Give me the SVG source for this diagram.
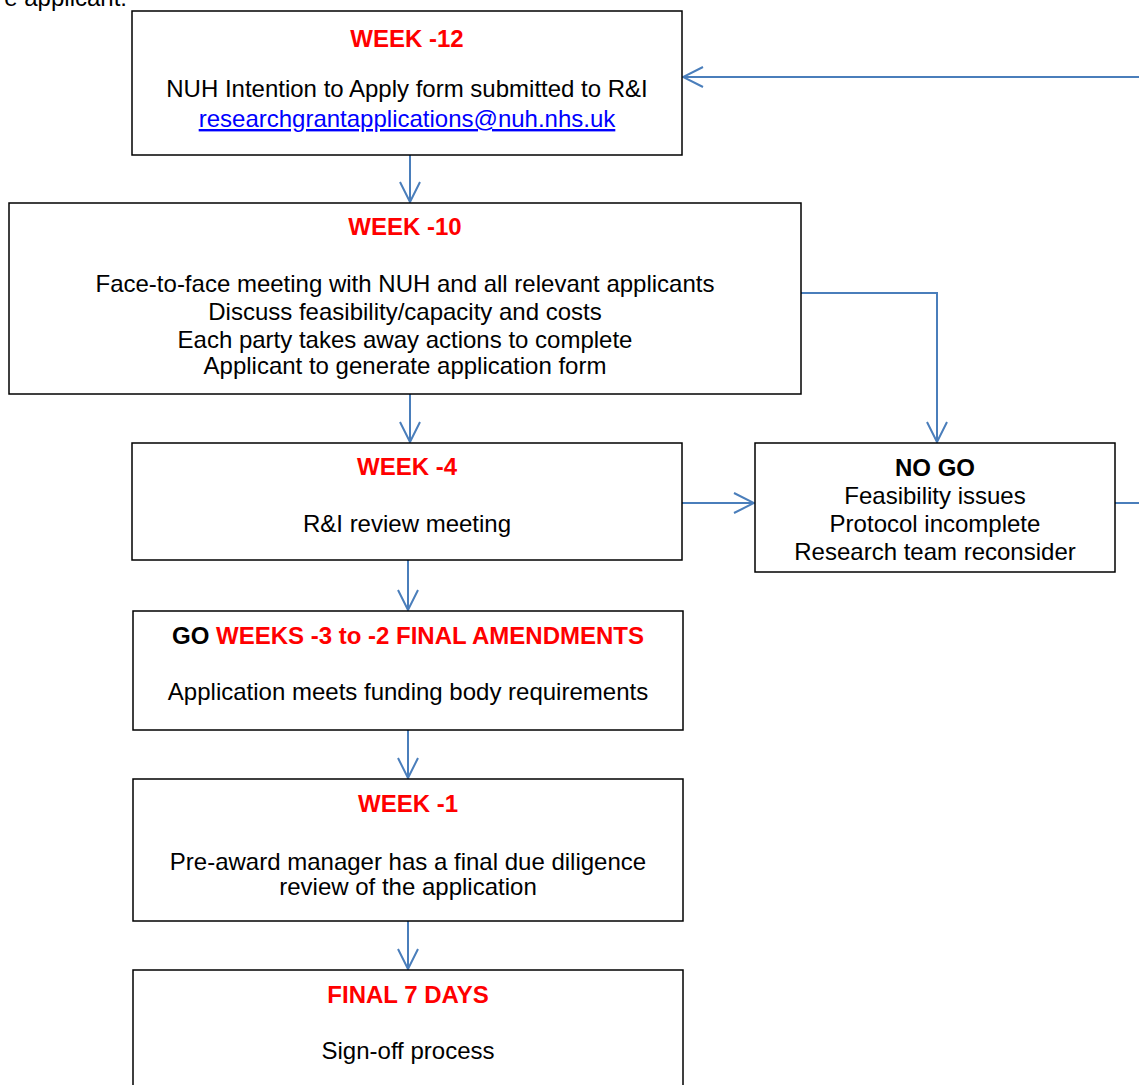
<svg xmlns="http://www.w3.org/2000/svg" width="1139" height="1085" viewBox="0 0 1139 1085">
<style>
.box{fill:#fff;stroke:#000;stroke-width:1.5}
text{font-family:"Liberation Sans",Arial,sans-serif;font-size:24px;fill:#000;text-anchor:middle}
.red{fill:#ff0000;font-weight:bold}
.b{font-weight:bold}
.link{fill:#0000ff;text-decoration:underline}
.con{fill:none;stroke:#4a7ebb;stroke-width:2}
</style>
<defs>
<marker id="arr" viewBox="0 0 24 24" refX="22" refY="12" markerWidth="24" markerHeight="24" markerUnits="userSpaceOnUse" orient="auto">
<path d="M2,2 L22,12 L2,22" fill="none" stroke="#4a7ebb" stroke-width="2"/>
</marker>
</defs>
<rect width="1139" height="1085" fill="#fff"/>
<text x="127" y="6" style="text-anchor:end">e applicant:</text>
<g id="connectors">
<line class="con" x1="410" y1="155" x2="410" y2="202" marker-end="url(#arr)"/>
<line class="con" x1="410" y1="394" x2="410" y2="442" marker-end="url(#arr)"/>
<polyline class="con" points="801,293 937,293 937,442" marker-end="url(#arr)"/>
<line class="con" x1="682" y1="503" x2="754" y2="503" marker-end="url(#arr)"/>
<line class="con" x1="1115" y1="503" x2="1145" y2="503"/>
<line class="con" x1="1145" y1="77" x2="683" y2="77" marker-end="url(#arr)"/>
<line class="con" x1="408" y1="560" x2="408" y2="610" marker-end="url(#arr)"/>
<line class="con" x1="408" y1="730" x2="408" y2="778" marker-end="url(#arr)"/>
<line class="con" x1="408" y1="921" x2="408" y2="969" marker-end="url(#arr)"/>
</g>
<g id="week12">
<rect class="box" x="132" y="11" width="550" height="144"/>
<text class="red" x="407" y="47">WEEK -12</text>
<text x="407" y="97">NUH Intention to Apply form submitted to R&amp;I</text>
<text class="link" x="407" y="127">researchgrantapplications@nuh.nhs.uk</text>
</g>
<g id="week10">
<rect class="box" x="9" y="203" width="792" height="191"/>
<text class="red" x="405" y="235">WEEK -10</text>
<text x="405" y="292">Face-to-face meeting with NUH and all relevant applicants</text>
<text x="405" y="320">Discuss feasibility/capacity and costs</text>
<text x="405" y="348">Each party takes away actions to complete</text>
<text x="405" y="374">Applicant to generate application form</text>
</g>
<g id="week4">
<rect class="box" x="132" y="443" width="550" height="117"/>
<text class="red" x="407" y="475">WEEK -4</text>
<text x="407" y="532">R&amp;I review meeting</text>
</g>
<g id="nogo">
<rect class="box" x="755" y="443" width="360" height="129"/>
<text class="b" x="935" y="476">NO GO</text>
<text x="935" y="504">Feasibility issues</text>
<text x="935" y="532">Protocol incomplete</text>
<text x="935" y="560">Research team reconsider</text>
</g>
<g id="go">
<rect class="box" x="133" y="611" width="550" height="119"/>
<text x="408" y="644"><tspan class="b">GO </tspan><tspan class="red">WEEKS -3 to -2 FINAL AMENDMENTS</tspan></text>
<text x="408" y="700">Application meets funding body requirements</text>
</g>
<g id="week1">
<rect class="box" x="133" y="779" width="550" height="142"/>
<text class="red" x="408" y="812">WEEK -1</text>
<text x="408" y="870">Pre-award manager has a final due diligence</text>
<text x="408" y="895">review of the application</text>
</g>
<g id="final7">
<rect class="box" x="133" y="970" width="550" height="130"/>
<text class="red" x="408" y="1003">FINAL 7 DAYS</text>
<text x="408" y="1059">Sign-off process</text>
</g>
</svg>
